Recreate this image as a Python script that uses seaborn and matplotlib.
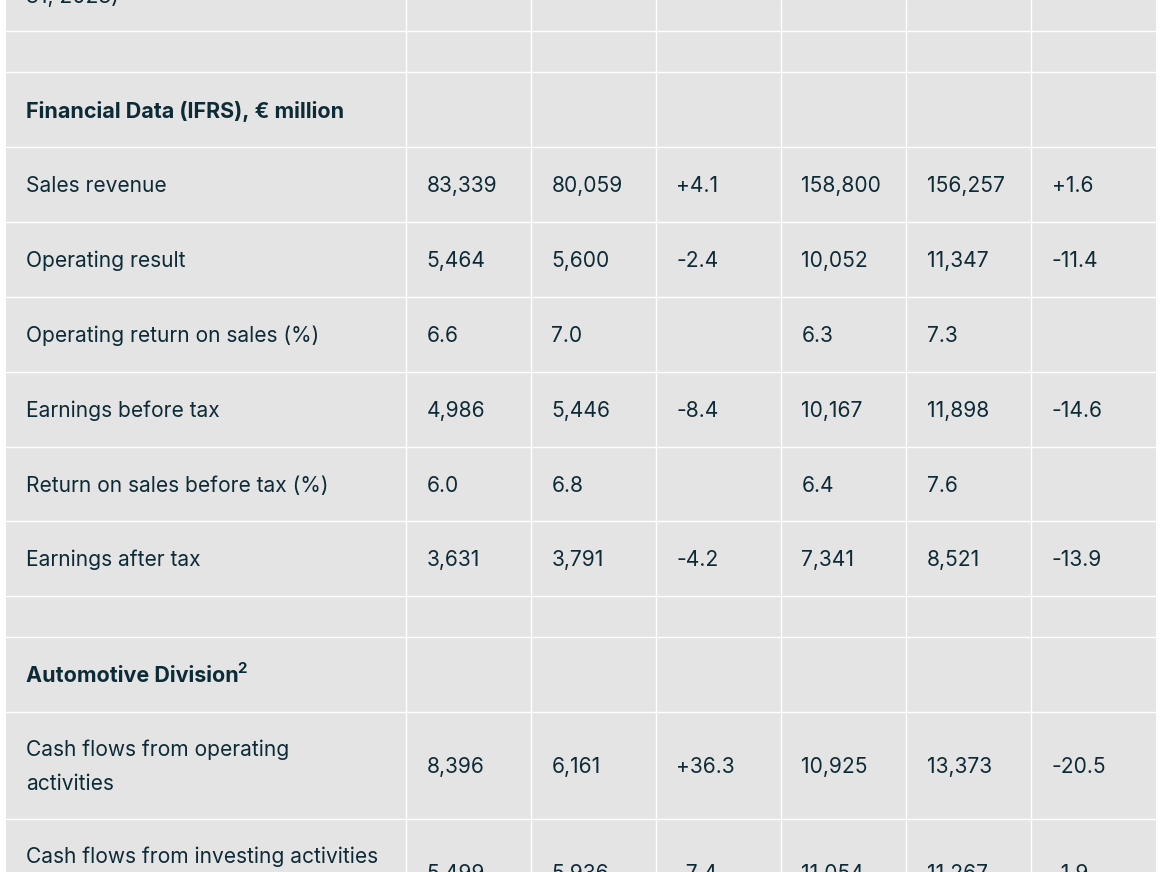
import matplotlib
matplotlib.use("Agg")
import matplotlib.pyplot as plt
import seaborn as sns

# ---------------- data ----------------
row_labels = [
    "31, 2023)",
    "",
    "Financial Data (IFRS), € million",
    "Sales revenue",
    "Operating result",
    "Operating return on sales (%)",
    "Earnings before tax",
    "Return on sales before tax (%)",
    "Earnings after tax",
    "",
    "Automotive Division",
    "Cash flows from operating\nactivities",
    "Cash flows from investing activities",
]
row_footnotes = ["", "", "", "", "", "", "", "", "", "", "2", "", ""]
bold_rows = [2, 10]

q2_2024 = ["", "", "", "83,339", "5,464", "6.6", "4,986", "6.0", "3,631", "", "", "8,396", "5,499"]
q2_2023 = ["", "", "", "80,059", "5,600", "7.0", "5,446", "6.8", "3,791", "", "", "6,161", "5,936"]
q2_change = ["", "", "", "+4.1", "-2.4", "", "-8.4", "", "-4.2", "", "", "+36.3", "-7.4"]
h1_2024 = ["", "", "", "158,800", "10,052", "6.3", "10,167", "6.4", "7,341", "", "", "10,925", "11,054"]
h1_2023 = ["", "", "", "156,257", "11,347", "7.3", "11,898", "7.6", "8,521", "", "", "13,373", "11,267"]
h1_change = ["", "", "", "+1.6", "-11.4", "", "-14.6", "", "-13.9", "", "", "-20.5", "-1.9"]

# ---------------- layout ----------------
W, H = 1163, 872
col_edges = [6, 406, 531, 656, 781, 906, 1031, 1156]
row_edges = [-40, 31, 72, 147, 222, 297, 372, 447, 521, 596, 637, 712, 819, 926]
pad = 20.5
bg = "#e4e4e4"
fg = "#0d2b36"

sns.set_theme(style="white")
plt.rcParams["font.family"] = ["Inter", "DejaVu Sans"]

fig = plt.figure(figsize=(W / 100, H / 100), dpi=100)
fig.patch.set_facecolor("white")
ax = fig.add_axes([col_edges[0] / W, 0, (col_edges[-1] - col_edges[0]) / W, 1])
ax.set_xlim(col_edges[0], col_edges[-1])
ax.set_ylim(H, 0)
ax.set_facecolor(bg)
ax.set_xticks([])
ax.set_yticks([])
for s in ax.spines.values():
    s.set_visible(False)

for y in row_edges[1:-1]:
    ax.axhline(y, color="white", lw=1.0)
for x in col_edges[1:-1]:
    ax.axvline(x, color="white", lw=1.0)

fs = 15.1
fs_bold = 15.5
columns = [q2_2024, q2_2023, q2_change, h1_2024, h1_2023, h1_change]
renderer = fig.canvas.get_renderer()
for i, label in enumerate(row_labels):
    top, bot = row_edges[i], row_edges[i + 1]
    yc = (top + bot) / 2 + 1.5
    if i == 0:
        ax.text(col_edges[0] + pad, 3, label, ha="left", va="baseline",
                fontsize=fs, color=fg)
    elif i == len(row_labels) - 1:
        ax.text(col_edges[0] + pad, top + 38, label, ha="left", va="center",
                fontsize=fs, color=fg)
    elif label:
        is_bold = i in bold_rows
        t = ax.text(col_edges[0] + pad, yc, label, ha="left", va="center",
                    fontsize=fs_bold if is_bold else fs, color=fg, linespacing=1.85,
                    fontweight="bold" if is_bold else "normal")
        if row_footnotes[i]:
            bb = t.get_window_extent(renderer=renderer)
            ax.annotate(row_footnotes[i], xy=(bb.x1, bb.y1), xycoords="figure pixels",
                        xytext=(-1.5, 4), textcoords="offset pixels",
                        ha="left", va="top", fontsize=fs * 0.72,
                        fontweight="bold", color=fg)
    for j, col in enumerate(columns):
        if col[i]:
            ax.text(col_edges[j + 1] + pad, yc, col[i], ha="left", va="center",
                    fontsize=fs, color=fg)

fig.savefig("out.png", dpi=100, facecolor="white")
